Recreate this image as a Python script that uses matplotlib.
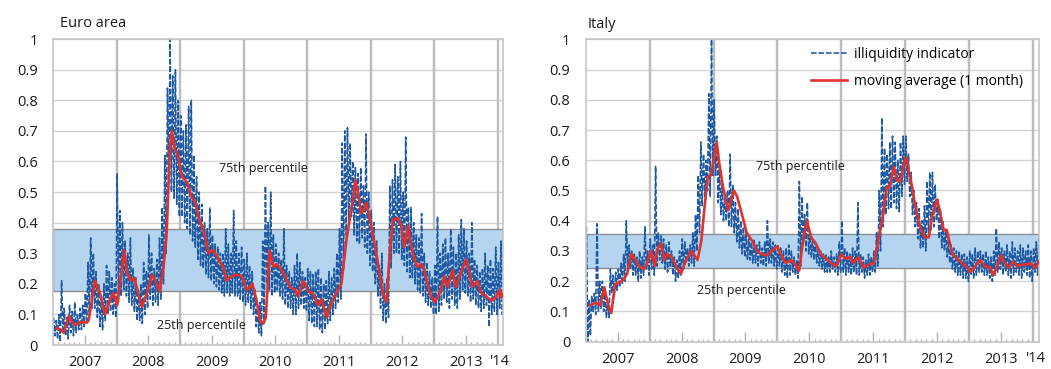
import numpy as np
import matplotlib.pyplot as plt
from matplotlib.transforms import blended_transform_factory

plt.rcParams['font.family'] = ['Open Sans', 'DejaVu Sans']

BLUE = '#1d58a2'
RED = '#e2312d'
BAND = '#b4d4ef'
GRID = '#d4d4d6'
YEARLINE = '#bcbcc0'
TEXT = '#1a1a1a'

years = [2007, 2008, 2009, 2010, 2011, 2012, 2013]
year_labels = ['2007', '2008', '2009', '2010', '2011', '2012', '2013']
yticks = [0, 0.1, 0.2, 0.3, 0.4, 0.5, 0.6, 0.7, 0.8, 0.9, 1]
ytick_labels = ['0', '0.1', '0.2', '0.3', '0.4', '0.5', '0.6', '0.7', '0.8', '0.9', '1']

# illiquidity indicator: half-monthly highs and lows, Jan 2007 - early Feb 2014
ea_hi = [
    .09, .08, .10, .21, .12, .09, .13, .11, .14, .10, .12, .13, .17, .27, .35, .30, .24, .20, .16, .20, .26, .24, .22, .20,
    .56, .44, .40, .34, .30, .35, .25, .22, .18, .20, .27, .24, .36, .30, .25, .28, .35, .45, .62, .84, 1.0, .88, .90, .80,
    .75, .70, .72, .78, .80, .62, .55, .50, .46, .40, .38, .45, .36, .33, .32, .30, .30, .38, .33, .30, .44, .34, .30, .32,
    .28, .30, .26, .24, .18, .12, .14, .34, .52, .40, .50, .36, .33, .30, .28, .38, .26, .24, .22, .26, .30, .27, .24, .22,
    .25, .24, .23, .24, .25, .22, .20, .21, .24, .22, .25, .30, .38, .66, .70, .71, .66, .60, .58, .56, .58, .52, .69, .50,
    .44, .40, .34, .26, .30, .20, .22, .52, .54, .59, .55, .60, .50, .68, .45, .45, .40, .36, .35, .43, .30, .27, .24, .22,
    .26, .42, .30, .33, .35, .30, .38, .32, .30, .36, .41, .38, .34, .30, .40, .28, .26, .24, .25, .30, .26, .28, .25, .32,
    .27, .34, .30,
]
ea_lo = [
    .03, .02, .01, .04, .03, .02, .04, .03, .04, .05, .05, .06, .07, .10, .12, .12, .09, .06, .05, .08, .10, .11, .10, .09,
    .14, .16, .18, .16, .14, .13, .11, .08, .08, .07, .10, .12, .15, .13, .14, .13, .15, .20, .30, .55, .50, .48, .46, .42,
    .42, .40, .38, .36, .34, .32, .28, .26, .25, .23, .22, .21, .20, .19, .18, .17, .16, .17, .16, .17, .16, .16, .15, .14,
    .13, .14, .12, .10, .06, .04, .03, .08, .20, .18, .16, .17, .18, .16, .15, .13, .12, .12, .10, .10, .12, .13, .12, .11,
    .08, .07, .06, .06, .05, .04, .05, .07, .08, .10, .12, .14, .15, .25, .36, .40, .42, .36, .34, .33, .35, .32, .30, .26,
    .24, .20, .16, .12, .08, .07, .09, .25, .30, .30, .30, .28, .26, .24, .22, .22, .20, .18, .17, .16, .14, .13, .12, .10,
    .10, .11, .13, .15, .14, .12, .15, .13, .12, .15, .18, .17, .16, .14, .15, .13, .12, .11, .12, .13, .06, .10, .11, .10,
    .12, .10, .13,
]
it_hi = [
    .38, .14, .15, .16, .39, .20, .20, .16, .13, .24, .22, .23, .24, .26, .29, .40, .32, .30, .29, .28, .30, .28, .38, .30,
    .34, .32, .58, .36, .35, .34, .32, .33, .30, .28, .27, .30, .34, .33, .31, .32, .36, .42, .55, .66, .62, .60, .82, 1.0,
    .80, .68, .58, .52, .48, .50, .62, .52, .46, .44, .40, .38, .36, .34, .33, .34, .32, .33, .31, .33, .40, .34, .33, .32,
    .32, .31, .30, .31, .32, .30, .28, .27, .53, .48, .42, .46, .36, .34, .33, .31, .30, .29, .29, .28, .30, .28, .29, .33,
    .40, .31, .30, .29, .31, .30, .46, .29, .28, .27, .29, .28, .30, .36, .50, .74, .64, .62, .66, .68, .66, .60, .66, .68,
    .68, .62, .56, .50, .46, .44, .40, .45, .53, .56, .56, .52, .47, .44, .40, .37, .34, .32, .31, .30, .30, .29, .29, .28,
    .30, .29, .31, .30, .30, .29, .30, .28, .28, .30, .375, .33, .31, .30, .32, .30, .33, .31, .30, .32, .31, .30, .32, .30,
    .31, .33, .35,
]
it_lo = [
    .00, .02, .10, .09, .10, .11, .10, .08, .08, .16, .15, .17, .18, .19, .20, .25, .24, .22, .22, .20, .21, .22, .24, .22,
    .24, .22, .25, .27, .26, .24, .23, .25, .22, .20, .21, .22, .24, .26, .25, .26, .25, .30, .36, .45, .48, .50, .48, .55,
    .55, .46, .42, .40, .40, .38, .38, .36, .33, .31, .29, .28, .27, .27, .26, .26, .25, .26, .25, .25, .26, .26, .25, .24,
    .25, .23, .22, .21, .22, .23, .22, .21, .25, .33, .30, .29, .28, .27, .26, .25, .24, .23, .23, .23, .24, .23, .22, .23,
    .23, .22, .23, .22, .23, .22, .22, .23, .21, .22, .22, .23, .23, .25, .30, .38, .42, .44, .44, .46, .44, .43, .48, .52,
    .53, .48, .42, .38, .34, .31, .31, .30, .36, .37, .38, .40, .34, .31, .30, .28, .26, .24, .23, .22, .22, .21, .21, .20,
    .22, .21, .22, .23, .23, .22, .22, .21, .20, .22, .23, .24, .22, .23, .22, .21, .22, .23, .22, .21, .23, .22, .21, .20,
    .23, .22, .24,
]

# 1-month moving average
ea_ma_t = [
    2007.06, 2007.12, 2007.17, 2007.25, 2007.30, 2007.35, 2007.43, 2007.53, 2007.56, 2007.60, 2007.66, 2007.74, 2007.82,
    2007.90, 2007.95, 2008.01, 2008.06, 2008.12, 2008.17, 2008.23, 2008.28, 2008.33, 2008.40, 2008.48, 2008.56, 2008.61,
    2008.68, 2008.74, 2008.79, 2008.84, 2008.87, 2008.92, 2008.97, 2009.03, 2009.08, 2009.13, 2009.18, 2009.24, 2009.29,
    2009.34, 2009.39, 2009.45, 2009.52, 2009.58, 2009.63, 2009.68, 2009.73, 2009.81, 2009.89, 2009.97, 2010.05, 2010.10,
    2010.14, 2010.20, 2010.26, 2010.31, 2010.35, 2010.41, 2010.47, 2010.52, 2010.57, 2010.65, 2010.73, 2010.81, 2010.86,
    2010.94, 2011.02, 2011.09, 2011.17, 2011.23, 2011.30, 2011.38, 2011.46, 2011.54, 2011.62, 2011.67, 2011.72, 2011.76,
    2011.82, 2011.85, 2011.91, 2011.93, 2011.98, 2012.04, 2012.09, 2012.14, 2012.19, 2012.25, 2012.30, 2012.35, 2012.43,
    2012.48, 2012.53, 2012.59, 2012.64, 2012.69, 2012.74, 2012.80, 2012.85, 2012.93, 2013.01, 2013.09, 2013.16, 2013.21,
    2013.29, 2013.34, 2013.42, 2013.50, 2013.55, 2013.60, 2013.68, 2013.74, 2013.81, 2013.90, 2013.97, 2014.03, 2014.05,
    2014.08,
]
ea_ma = [
    .055, .05, .04, .095, .075, .065, .075, .073, .08, .13, .21, .17, .10,
    .15, .17, .13, .21, .31, .235, .21, .22, .18, .125, .17, .23, .21,
    .175, .255, .365, .64, .70, .64, .62, .55, .54, .52, .485, .465, .42,
    .39, .355, .30, .31, .29, .27, .255, .21, .225, .23, .225, .18, .19,
    .20, .15, .08, .07, .09, .31, .255, .265, .255, .225, .19, .18, .16,
    .21, .175, .17, .13, .15, .09, .135, .17, .20, .345, .41, .475, .54,
    .475, .43, .45, .465, .42, .355, .30, .235, .17, .14, .30, .41, .415,
    .39, .32, .39, .32, .28, .255, .265, .24, .17, .14, .17, .225, .19,
    .245, .19, .235, .28, .245, .19, .21, .17, .16, .145, .155, .18, .155,
    .165,
]
it_ma_t = [
    2007.07, 2007.15, 2007.23, 2007.29, 2007.36, 2007.40, 2007.46, 2007.52, 2007.59, 2007.65, 2007.71, 2007.78, 2007.83,
    2007.91, 2007.96, 2008.02, 2008.08, 2008.12, 2008.18, 2008.23, 2008.28, 2008.34, 2008.44, 2008.49, 2008.57, 2008.65,
    2008.75, 2008.81, 2008.86, 2008.91, 2008.96, 2009.02, 2009.05, 2009.09, 2009.15, 2009.23, 2009.28, 2009.32, 2009.37,
    2009.44, 2009.52, 2009.60, 2009.68, 2009.75, 2009.83, 2009.91, 2010.00, 2010.05, 2010.13, 2010.21, 2010.26, 2010.34,
    2010.39, 2010.46, 2010.53, 2010.60, 2010.68, 2010.76, 2010.84, 2010.92, 2011.00, 2011.06, 2011.14, 2011.19, 2011.27,
    2011.35, 2011.43, 2011.51, 2011.58, 2011.65, 2011.71, 2011.76, 2011.82, 2011.87, 2011.93, 2011.98, 2012.02, 2012.05,
    2012.11, 2012.16, 2012.23, 2012.31, 2012.37, 2012.42, 2012.50, 2012.55, 2012.60, 2012.65, 2012.70, 2012.74, 2012.81,
    2012.89, 2012.97, 2013.02, 2013.10, 2013.17, 2013.25, 2013.33, 2013.38, 2013.44, 2013.50, 2013.56, 2013.62, 2013.69,
    2013.75, 2013.83, 2013.91, 2013.96, 2014.04, 2014.09,
]
it_ma = [
    .12, .13, .12, .18, .115, .095, .19, .195, .205, .225, .29, .27, .25,
    .24, .26, .30, .25, .305, .325, .27, .29, .28, .24, .225, .27, .30,
    .27, .335, .445, .545, .55, .62, .66, .59, .51, .435, .47, .50, .48,
    .425, .36, .335, .30, .29, .285, .30, .315, .29, .26, .27, .26, .235,
    .315, .40, .345, .325, .29, .275, .26, .25, .29, .275, .28, .26, .28,
    .245, .255, .26, .335, .415, .51, .51, .58, .535, .53, .59, .61, .57,
    .51, .445, .38, .345, .345, .415, .47, .425, .37, .37, .325, .29, .275,
    .26, .245, .23, .25, .27, .25, .245, .22, .25, .285, .26, .245, .265,
    .25, .255, .255, .26, .245, .265,
]

# interquartile range of the indicator
ea_band = (0.175, 0.378)
it_band = (0.243, 0.355)


def zigzag(hi, lo):
    k = np.arange(len(hi))
    t = np.empty(2 * len(hi))
    v = np.empty(2 * len(hi))
    t[0::2] = 2007 + (k + 0.25) / 24
    t[1::2] = 2007 + (k + 0.75) / 24
    v[0::2] = hi
    v[1::2] = lo
    return t, v


def panel(ax, hi, lo, ma_t, ma, band, xmax, p75, p25):
    t, v = zigzag(hi, lo)
    ax.axhspan(band[0], band[1], facecolor=BAND, edgecolor='#8e8e8e', lw=1.0, zorder=1)
    for y in years[1:] + [2014]:
        ax.axvline(y, color=YEARLINE, lw=1.7, zorder=0.6)
    ax.plot(t, v, color=BLUE, lw=1.15, dashes=(3.5, 1.2), zorder=2, label='illiquidity indicator')
    ax.plot(ma_t, ma, color=RED, lw=1.9, zorder=3, solid_joinstyle='round',
            label='moving average (1 month)')

    ax.set_xlim(2007, xmax)
    ax.set_ylim(0, 1)
    ax.set_yticks(yticks)
    ax.set_yticklabels(ytick_labels)
    ax.yaxis.grid(True, color=GRID, lw=1.0)
    ax.set_axisbelow(True)
    ax.set_xticks([y + 0.5 for y in years])
    ax.set_xticklabels(year_labels)
    ax.set_xticks(np.arange(2007, xmax, 1 / 12), minor=True)
    ax.tick_params(axis='y', length=0, pad=11, labelsize=10.5, labelcolor=TEXT)
    ax.tick_params(axis='x', which='major', direction='in', length=7, width=1.0, color='#b4b4b4',
                   pad=7.5, labelsize=10.5, labelcolor=TEXT)
    ax.tick_params(axis='x', which='minor', direction='in', length=2.5, width=1.0, color='#b4b4b4')
    for s in ax.spines.values():
        s.set_color('#c6c6c8')
        s.set_linewidth(1.2)

    trans = blended_transform_factory(ax.transData, ax.transAxes)
    ax.text((2014 + xmax) / 2, -0.055, "'14", transform=trans, ha='center', va='center',
            fontsize=10.5, color=TEXT)
    ax.text(p75[0], p75[1], '75th percentile', ha='center', va='center', fontsize=9, color=TEXT)
    ax.text(p25[0], p25[1], '25th percentile', ha='center', va='center', fontsize=9, color=TEXT)


fig = plt.figure(figsize=(10.51, 3.69), dpi=100)
ax1 = fig.add_axes([0.0504, 0.065, 0.428, 0.829])
ax2 = fig.add_axes([0.5573, 0.074, 0.4316, 0.8195])

panel(ax1, ea_hi, ea_lo, ea_ma_t, ea_ma, ea_band, 2014.08, (2010.31, 0.578), (2009.34, 0.065))
panel(ax2, it_hi, it_lo, it_ma_t, it_ma, it_band, 2014.1, (2010.36, 0.578), (2009.43, 0.168))

fig.text(0.057, 0.936, 'Euro area', fontsize=10.5, va='center', color=TEXT)
fig.text(0.5595, 0.934, 'Italy', fontsize=10.5, va='center', color=TEXT)

ax2.legend(loc='upper left', bbox_to_anchor=(0.497, 0.975), frameon=False, fontsize=10,
           handlelength=2.6, handletextpad=0.5, labelspacing=0.85, borderaxespad=0, borderpad=0)

fig.savefig('out.png', dpi=100)
